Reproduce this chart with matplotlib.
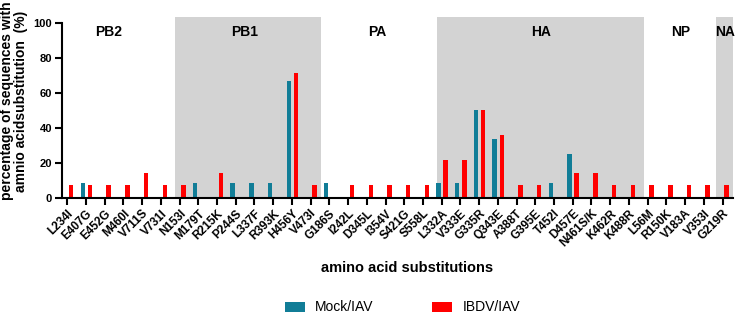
import matplotlib
matplotlib.use("Agg")
import matplotlib.pyplot as plt
import numpy as np
from matplotlib.patches import Patch

plt.rcParams['font.family'] = ['Liberation Sans', 'DejaVu Sans']

substitutions = ["L234I", "E407G", "E452G", "M460I", "V711S", "V731I",
                 "N153I", "M179T", "R215K", "P244S", "L337F", "R393K", "H456Y", "V473I",
                 "G186S", "I242L", "D345L", "I354V", "S421G", "S558L",
                 "L332A", "V333E", "G335R", "Q343E", "A388T", "G395E", "T452I", "D457E",
                 "N461S/K", "K462R", "K488R",
                 "L56M", "R150K", "V183A", "V353I",
                 "G219R"]
mock_iav = [0, 8.33, 0, 0, 0, 0,
            0, 8.33, 0, 8.33, 8.33, 8.33, 66.67, 0,
            8.33, 0, 0, 0, 0, 0,
            8.33, 8.33, 50, 33.33, 0, 0, 8.33, 25, 0, 0, 0,
            0, 0, 0, 0,
            0]
ibdv_iav = [7.14, 7.14, 7.14, 7.14, 14.29, 7.14,
            7.14, 0, 14.29, 0, 0, 0, 71.43, 7.14,
            0, 7.14, 7.14, 7.14, 7.14, 7.14,
            21.43, 21.43, 50, 35.71, 7.14, 7.14, 0, 14.29, 14.29, 7.14, 7.14,
            7.14, 7.14, 7.14, 7.14,
            7.14]
segments = ["PB2", "PB1", "PA", "HA", "NP", "NA"]

TEAL = "#117D97"
RED = "#FF0000"
GRAY = "#D3D3D3"

fig = plt.figure(figsize=(7.35, 3.14), dpi=100)
ax = fig.add_axes([0.0839, 0.3704, 0.9134, 0.5745])

x = np.arange(len(substitutions))
ax.set_xlim(-0.30, 35.56)
ax.set_ylim(0, 103)

# shaded segment regions
for (a, b) in [(5.75, 13.54), (19.73, 30.79), (34.65, 35.6)]:
    ax.axvspan(a, b, color=GRAY, lw=0, zorder=0)

w = 0.24
ax.bar(x - 0.17, mock_iav, width=w, color=TEAL, zorder=2)
ax.bar(x + 0.21, ibdv_iav, width=w, color=RED, zorder=2)

seg_x = [2.23, 9.49, 16.57, 25.3, 32.78, 35.13]
for s, sx in zip(segments, seg_x):
    ax.text(sx, 94.7, s, ha='center', va='center', fontsize=10, fontweight='bold')

ax.set_xticks(x)
ax.set_xticklabels(substitutions, rotation=45, ha='right', va='top',
                   rotation_mode='anchor', fontsize=8.5, fontweight='bold')
ax.set_yticks([0, 20, 40, 60, 80, 100])
ax.set_yticklabels(["0", "20", "40", "60", "80", "100"], fontsize=8, fontweight='bold')

for sp in ['top', 'right']:
    ax.spines[sp].set_visible(False)
ax.spines['left'].set_bounds(0, 100)
for sp in ['left', 'bottom']:
    ax.spines[sp].set_linewidth(1.5)
ax.tick_params(axis='both', width=1.5, length=5, pad=2)

fig.text(0.554, 0.1465, "amino acid substitutions", ha='center', va='center',
         fontsize=10.5, fontweight='bold')
fig.text(0.019, 0.678, "percentage of sequences with\namnio acidsubstitution  (%)",
         ha='center', va='center', rotation=90, fontsize=10, fontweight='bold',
         linespacing=1.05, multialignment='center')

handles = [Patch(facecolor=TEAL, label="Mock/IAV"), Patch(facecolor=RED, label="IBDV/IAV")]
fig.legend(handles=handles, loc='center', bbox_to_anchor=(0.5476, 0.021), ncol=2,
           frameon=False, fontsize=10, handlelength=1.44, handleheight=0.72,
           handletextpad=0.72, columnspacing=4.25, borderpad=0, borderaxespad=0)

fig.savefig("out.png", dpi=100)
